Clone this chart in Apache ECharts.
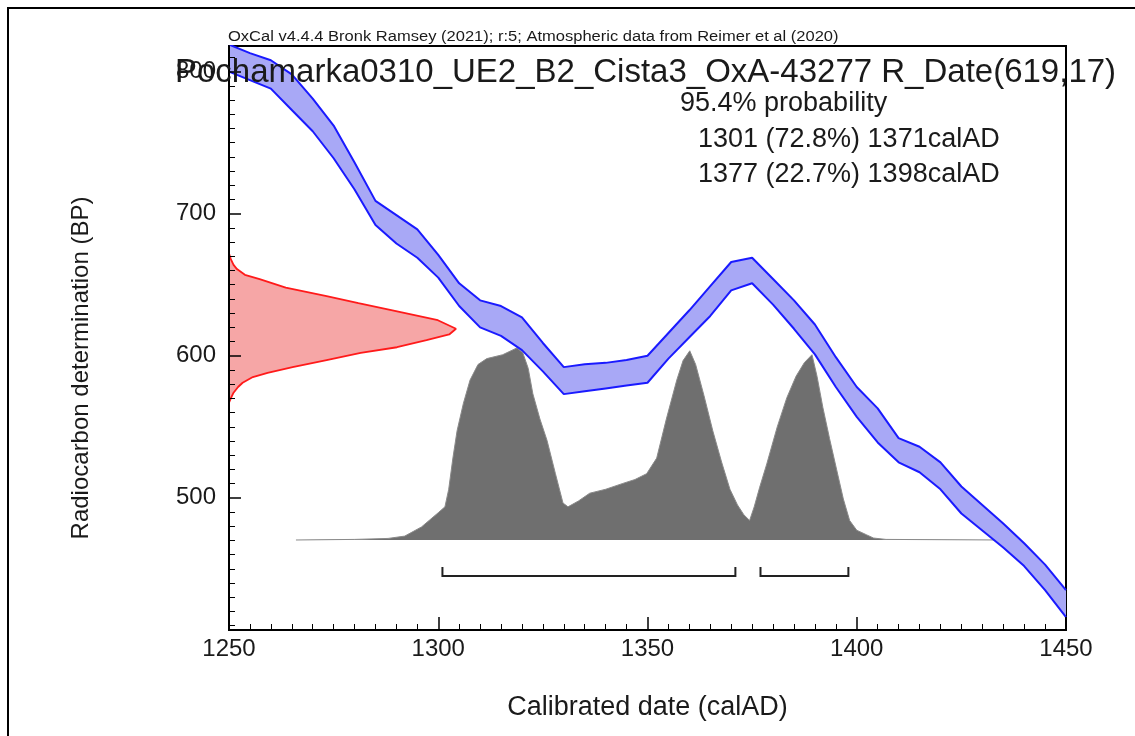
<!DOCTYPE html>
<html><head><meta charset="utf-8">
<script src="https://cdn.jsdelivr.net/npm/echarts@6/dist/echarts.min.js"></script>
<style>html,body{margin:0;padding:0;background:#fff}#c{width:1135px;height:736px}</style>
</head><body><div id="c"></div>
<script>
// Calibration curve (IntCal20 band, upper / lower edge in BP)
const ccYears = [1250,1255,1260,1265,1270,1275,1280,1285,1290,1295,1300,1305,1310,1315,1320,1325,1330,1335,1340,1345,1350,1355,1360,1365,1370,1375,1380,1385,1390,1395,1400,1405,1410,1415,1420,1425,1430,1435,1440,1445,1450];
const ccUpper = [819,813,808,798,781,762,736,709,699,689,671,651,639,635,627,609,592,594,595,597,600,616,632,649,666,669,654,639,622,599,578,563,542,536,525,508,495,482,468,453,435];
const ccLower = [800,794,788,773,758,739,717,692,679,669,655,635,620,614,604,589,573,575,577,579,581,598,613,628,646,651,636,619,601,578,557,539,525,518,506,489,477,465,452,435,416];

// Calibrated date distribution (relative probability)
const calYears = [1266,1280,1288,1292,1296,1300,1301.6,1302.5,1303.5,1304.5,1306,1307.6,1309.5,1311.6,1315.4,1318.8,1320.2,1321.5,1322.6,1324.3,1326,1328,1329.8,1331,1333.5,1336.2,1340,1344.1,1347,1349.8,1352.2,1354.5,1357,1358.5,1360.1,1361.5,1363.5,1365.6,1367.7,1369.7,1371.5,1373,1374.4,1375.5,1376.8,1378.5,1381,1383.3,1385.5,1387.5,1389.3,1390.5,1391.9,1393.5,1395.2,1396.8,1398.3,1400,1402.4,1404,1407,1434];
const calDens = [0,0.003,0.008,0.02,0.067,0.14,0.17,0.26,0.42,0.56,0.70,0.82,0.90,0.93,0.95,0.985,0.96,0.88,0.75,0.62,0.51,0.34,0.19,0.17,0.20,0.24,0.26,0.29,0.31,0.34,0.42,0.62,0.82,0.92,0.97,0.90,0.74,0.56,0.40,0.26,0.18,0.13,0.10,0.17,0.27,0.39,0.58,0.73,0.84,0.91,0.95,0.84,0.68,0.52,0.36,0.21,0.10,0.05,0.026,0.01,0.003,0];

// Radiocarbon measurement R_Date(619,17) (relative probability)
const rcBP   = [672,668,664,661,657,654,648,642,637,632,625,619,615,611,606,602,597,592,588,585,581,578,574,570,567];
const rcDens = [0,0.008,0.02,0.035,0.07,0.135,0.25,0.43,0.57,0.72,0.92,1.0,0.97,0.87,0.74,0.58,0.43,0.28,0.17,0.105,0.06,0.04,0.02,0.008,0];

// 95.4% ranges
const rangeStart = [1301,1377];
const rangeEnd   = [1371,1398];

// Tick labels
const yMajorTicks = [500,600,700,800];
const yMinorTicks = [410,420,430,440,450,460,470,480,490,510,520,530,540,550,560,570,580,590,610,620,630,640,650,660,670,680,690,710,720,730,740,750,760,770,780,790,810];

const FONT = '"Liberation Sans", Arial, sans-serif';
const TXT = '#1a1a1a';

const chart = echarts.init(document.getElementById('c'), null, {renderer:'canvas'});

const option = {
  animation:false,
  backgroundColor:'#ffffff',
  grid:{left:229, right:69, top:46, bottom:106, show:true, borderColor:'#000', borderWidth:2, backgroundColor:'transparent'},
  xAxis:[
    {type:'value', min:1250, max:1450, interval:50, position:'bottom', z:10,
     axisLine:{show:true, onZero:false, lineStyle:{color:'#000', width:2}},
     axisTick:{show:true, inside:true, length:13, lineStyle:{color:'#000', width:1.5}},
     minorTick:{show:true, splitNumber:10, length:6, lineStyle:{color:'#000', width:1}},
     axisLabel:{fontSize:24, color:TXT, margin:7, fontFamily:FONT, formatter:(v)=>String(v)},
     splitLine:{show:false}, minorSplitLine:{show:false},
     name:'Calibrated date (calAD)', nameLocation:'middle', nameGap:64,
     nameTextStyle:{fontSize:27, color:TXT, fontFamily:FONT}},
    {type:'value', min:0, max:3.687, show:false, position:'top'}
  ],
  yAxis:[
    {type:'value', min:407, max:818, position:'left', z:10,
     axisLine:{show:true, onZero:false, lineStyle:{color:'#000', width:2}},
     axisTick:{show:true, inside:true, length:12, customValues:yMajorTicks, lineStyle:{color:'#000', width:1.5}},
     axisLabel:{customValues:yMajorTicks, fontSize:24, color:TXT, margin:13, fontFamily:FONT, formatter:(v)=>String(v)},
     splitLine:{show:false}},
    {type:'value', min:-0.4615, max:2.533, show:false, position:'right'},
    {type:'value', min:407, max:818, position:'left', z:10,
     axisLine:{show:false},
     axisTick:{show:true, inside:true, length:6, customValues:yMinorTicks, lineStyle:{color:'#000', width:1}},
     axisLabel:{show:false}, splitLine:{show:false}}
  ],
  series:[
    {type:'line', name:'calibrated', xAxisIndex:0, yAxisIndex:1, z:2, symbol:'none', silent:true,
     data: calYears.map((y,i)=>[y, calDens[i]]),
     lineStyle:{color:'#8a8a8a', width:1}, areaStyle:{color:'#6f6f6f', opacity:1}},
    {type:'custom', name:'curveFill', xAxisIndex:0, yAxisIndex:0, z:3, silent:true, clip:true,
     data:[[ccYears[0], ccLower[0]]],
     renderItem:(params, api)=>{
       const pts = [];
       for (let i=0;i<ccYears.length;i++) pts.push(api.coord([ccYears[i], ccUpper[i]]));
       for (let i=ccYears.length-1;i>=0;i--) pts.push(api.coord([ccYears[i], ccLower[i]]));
       return {type:'polygon', shape:{points:pts}, style:{fill:'#a8a8f6', stroke:null}};
     }},
    {type:'line', name:'curveUpper', xAxisIndex:0, yAxisIndex:0, z:4, symbol:'none', silent:true,
     data: ccYears.map((y,i)=>[y, ccUpper[i]]), lineStyle:{color:'#1a1aff', width:2}},
    {type:'line', name:'curveLower', xAxisIndex:0, yAxisIndex:0, z:4, symbol:'none', silent:true,
     data: ccYears.map((y,i)=>[y, ccLower[i]]), lineStyle:{color:'#1a1aff', width:2}},
    {type:'custom', name:'rcFill', xAxisIndex:1, yAxisIndex:0, z:5, silent:true, clip:true,
     data:[[rcDens[0], rcBP[0]]],
     renderItem:(params, api)=>{
       const pts = rcBP.map((b,i)=>api.coord([rcDens[i], b]));
       return {type:'polygon', shape:{points:pts}, style:{fill:'#f6a6a6', stroke:null}};
     }},
    {type:'line', name:'rcLine', xAxisIndex:1, yAxisIndex:0, z:6, symbol:'none', silent:true,
     data: rcBP.map((b,i)=>[rcDens[i], b]), lineStyle:{color:'#ff1a1a', width:1.8}},
    {type:'custom', name:'ranges', xAxisIndex:0, yAxisIndex:1, z:6, silent:true,
     data: rangeStart.map((s,i)=>[s, rangeEnd[i]]),
     renderItem:(params, api)=>{
       const p1 = api.coord([api.value(0), 0]);
       const p2 = api.coord([api.value(1), 0]);
       const y = p1[1] + 36;
       return {type:'polyline', shape:{points:[[p1[0], y-9],[p1[0], y],[p2[0], y],[p2[0], y-9]]},
               style:{stroke:'#222', lineWidth:2, fill:null}};
     }}
  ],
  graphic:[
    {type:'polyline', z:20, silent:true, shape:{points:[[8,736],[8,8],[1135,8]]}, style:{stroke:'#000', lineWidth:2, fill:null}},
    {type:'text', x:228, y:37, scaleX:1.18, z:20, silent:true, style:{text:'OxCal v4.4.4 Bronk Ramsey (2021); r:5; Atmospheric data from Reimer et al (2020)', fontSize:14, fontFamily:FONT, fill:TXT, align:'left', verticalAlign:'middle'}},
    {type:'text', x:175, y:73, z:20, silent:true, style:{text:'Pochamarka0310_UE2_B2_Cista3_OxA-43277 R_Date(619,17)', fontSize:33, fontFamily:FONT, fill:TXT, align:'left', verticalAlign:'middle'}},
    {type:'text', x:680, y:104, z:20, silent:true, style:{text:'95.4% probability', fontSize:27, fontFamily:FONT, fill:TXT, align:'left', verticalAlign:'middle'}},
    {type:'text', x:698, y:140, z:20, silent:true, style:{text:'1301 (72.8%) 1371calAD', fontSize:27, fontFamily:FONT, fill:TXT, align:'left', verticalAlign:'middle'}},
    {type:'text', x:698, y:175, z:20, silent:true, style:{text:'1377 (22.7%) 1398calAD', fontSize:27, fontFamily:FONT, fill:TXT, align:'left', verticalAlign:'middle'}},
    {type:'text', x:81, y:368, rotation:Math.PI/2, z:20, silent:true, style:{text:'Radiocarbon determination (BP)', fontSize:24, fontFamily:FONT, fill:TXT, align:'center', verticalAlign:'middle'}}
  ]
};
chart.setOption(option);
</script>
</body></html>
